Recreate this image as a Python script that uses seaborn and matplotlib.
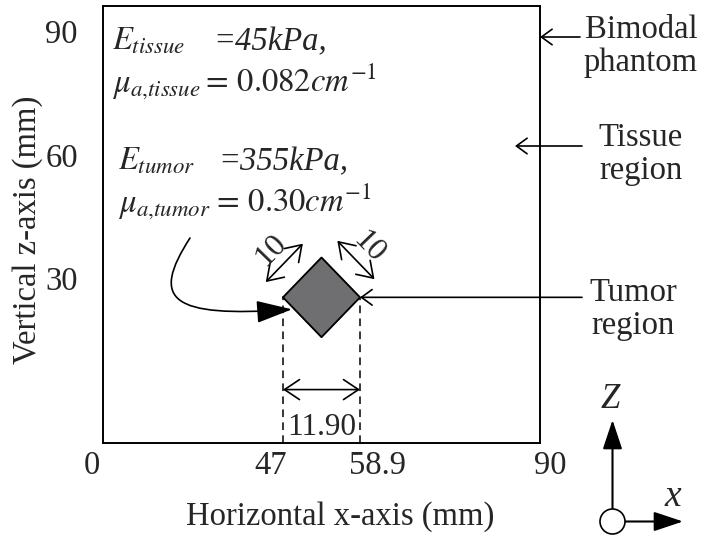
import numpy as np
import pandas as pd
import matplotlib
matplotlib.use("Agg")
import matplotlib.pyplot as plt
import seaborn as sns
from matplotlib.patches import FancyArrowPatch, Circle
from matplotlib.path import Path
from matplotlib.transforms import IdentityTransform

# Phantom extent (mm) and the values printed along the axes
phantom_x = [0, 90]
phantom_z = [0, 90]
x_tick_values = [0, 47, 58.9, 90]
z_tick_values = [30, 60, 90]

# Tumor inclusion: horizontal corner positions, vertical extent and side lengths (mm)
tumor_x = [47.0, 58.9]
tumor_z = [21.8, 38.2]
tumor_side = [10, 10]

# Material properties
E_tissue_kPa = 45
mu_tissue = 0.082
E_tumor_kPa = 355
mu_tumor = 0.30

W, H = 704, 537
FS = 23.5

sns.set_theme(style="white")
plt.rcParams["font.family"] = ["Liberation Serif", "DejaVu Serif"]
plt.rcParams["mathtext.fontset"] = "stix"

fig = plt.figure(figsize=(W / 100, H / 100), dpi=100)
fig.patch.set_facecolor("white")
ax = fig.add_axes([103 / W, 1 - 443 / H, 437 / W, 437 / H])

# Schematic x axis: the tumor span is drawn enlarged relative to the rest
x_break = [phantom_x[0], tumor_x[0], tumor_x[1], phantom_x[1]]
x_drawn = [0.0, 37.07, 52.93, 90.0]
ax.set_xscale("function",
              functions=(lambda v: np.interp(v, x_break, x_drawn),
                         lambda v: np.interp(v, x_drawn, x_break)))

# Tumor: a square turned on its corner
cx = float(np.mean(tumor_x))
cz = float(np.mean(tumor_z))
outline = pd.DataFrame({
    "x": [tumor_x[0], cx, tumor_x[1], cx, tumor_x[0]],
    "z": [cz, tumor_z[1], cz, tumor_z[0], cz],
})
ax.fill(outline["x"], outline["z"], color="#6f6f72", zorder=2)
sns.lineplot(data=outline, x="x", y="z", sort=False, estimator=None,
             color="black", lw=1.3, ax=ax, zorder=3)

ax.set_xlim(phantom_x)
ax.set_ylim(phantom_z)
ax.set_xticks([])
ax.set_yticks([])
for s in ax.spines.values():
    s.set_visible(True)
    s.set_color("black")
    s.set_linewidth(1.4)

# Projection of the tumor corners onto the x axis
ax.vlines(tumor_x, phantom_z[0], cz, colors="black", linestyles=(0, (5, 3.5)),
          lw=1.1, zorder=1)
dim_arrow = dict(arrowstyle="<->,head_length=0.45,head_width=0.3", lw=1.2,
                 color="black", shrinkA=0, shrinkB=0, mutation_scale=24)
ax.annotate("", xy=(tumor_x[0], 11), xytext=(tumor_x[1], 11), arrowprops=dim_arrow)
ax.text(cx, 1.6, f"{tumor_x[1] - tumor_x[0]:.2f}", ha="center", va="baseline",
        fontsize=22.5)

# Side-length dimensions along the two upper edges
td = ax.transData
L = np.array(td.transform((tumor_x[0], cz)))
T = np.array(td.transform((cx, tumor_z[1])))
R = np.array(td.transform((tumor_x[1], cz)))


def side_dimension(a, b, label):
    u = (b - a) / np.linalg.norm(b - a)
    n = np.array([-u[1], u[0]])
    p0 = a + 23 * n - 1 * u
    p1 = b + 23 * n - 3 * u
    ax.annotate("", xy=tuple(p1), xytext=tuple(p0), xycoords="figure pixels",
                textcoords="figure pixels", arrowprops=dim_arrow)
    mid = (p0 + p1) / 2 + 18 * n
    rot = np.degrees(np.arctan2(u[1], u[0]))
    fig.text(mid[0] / W, mid[1] / H, label, rotation=rot, rotation_mode="anchor",
             ha="center", va="center", fontsize=23)


side_dimension(L, T, f"{tumor_side[0]}")
side_dimension(T, R, f"{tumor_side[1]}")

# Values along the axes
x_label_dx = [-11, -12, 17, 10]
for v, dx in zip(x_tick_values, x_label_dx):
    ax.annotate(f"{v:g}", xy=(v, 0), xycoords=("data", "axes fraction"),
                xytext=(dx, -31), textcoords="offset pixels", ha="center",
                va="baseline", fontsize=FS, annotation_clip=False)
z_label_dy = [7, -15, -37]
for v, dy in zip(z_tick_values, z_label_dy):
    ax.annotate(f"{v:g}", xy=(0, v), xycoords=("axes fraction", "data"),
                xytext=(-25, dy), textcoords="offset pixels", ha="right",
                va="baseline", fontsize=FS, annotation_clip=False)

ax.set_xlabel("Horizontal x-axis (mm)", fontsize=FS)
ax.xaxis.set_label_coords((340 - 103) / 437, (443 - 517) / 437)
ax.xaxis.label.set_va("center")
ax.set_ylabel("Vertical z-axis (mm)", fontsize=FS)
ax.yaxis.set_label_coords((28 - 103) / 437, (443 - 230) / 437)
ax.yaxis.label.set_va("center")


def put(xpx, ypx, s, **kw):
    fig.text(xpx / W, 1 - ypx / H, s, va="baseline", ha="left", fontsize=FS, **kw)


# Material property annotations
put(112, 50, r"$E_{tissue}$")
put(213, 50, f"={E_tissue_kPa}kPa,", style="italic")
put(112, 92, r"$\mu_{a{,}tissue}$")
put(201, 92, rf"${{=}}\,{mu_tissue}cm^{{-1}}$")
put(118, 170, r"$E_{tumor}$")
put(218, 170, f"={E_tumor_kPa}kPa,", style="italic")
put(118, 212, r"$\mu_{a{,}tumor}$")
put(212, 212, rf"${{=}}\,{mu_tumor:.2f}cm^{{-1}}$")

# Curved pointer from the tumor properties to the inclusion
tip = (L[0] + 9, L[1] - 12)
curve = [(190, H - 238), (150, H - 300), (170, H - 318), tip]
pointer = FancyArrowPatch(
    path=Path(curve, [Path.MOVETO, Path.CURVE4, Path.CURVE4, Path.CURVE4]),
    arrowstyle="-|>,head_length=0.8,head_width=0.25", mutation_scale=28,
    lw=1.2, color="black", transform=IdentityTransform())
fig.add_artist(pointer)

# Region labels on the right
leader = dict(arrowstyle="->,head_length=0.55,head_width=0.4", lw=1.2,
              color="black", shrinkA=0, shrinkB=0, mutation_scale=14)
fig.text(641 / W, 1 - 46 / H, "Bimodal\nphantom", ha="center", va="center",
         fontsize=FS, linespacing=1.12)
ax.annotate("", xy=(540, H - 37), xytext=(580, H - 37), xycoords="figure pixels",
            textcoords="figure pixels", arrowprops=leader)
fig.text(641 / W, 1 - 154 / H, "Tissue\nregion", ha="center", va="center",
         fontsize=FS, linespacing=1.12)
ax.annotate("", xy=(515, H - 146), xytext=(582, H - 146), xycoords="figure pixels",
            textcoords="figure pixels", arrowprops=leader)
fig.text(633 / W, 1 - 309 / H, "Tumor\nregion", ha="center", va="center",
         fontsize=FS, linespacing=1.12)
ax.annotate("", xy=tuple(R), xytext=(582, R[1]), xycoords="figure pixels",
            textcoords="figure pixels", arrowprops=leader)

# Coordinate system glyph
axis_arrow = dict(arrowstyle="-|>,head_length=1.8,head_width=0.6", lw=1.5,
                  color="black", shrinkA=0, shrinkB=0, mutation_scale=10)
ax.annotate("", xy=(612.5, H - 420), xytext=(612.5, H - 509),
            xycoords="figure pixels", textcoords="figure pixels", arrowprops=axis_arrow)
ax.annotate("", xy=(683, H - 521.5), xytext=(625, H - 521.5),
            xycoords="figure pixels", textcoords="figure pixels", arrowprops=axis_arrow)
fig.add_artist(Circle((612.5, H - 521.5), 12.5, transform=IdentityTransform(),
                      facecolor="white", edgecolor="black", lw=1.2, zorder=5))
fig.text(610 / W, 1 - 400 / H, "Z", style="italic", fontsize=25, ha="center", va="center")
fig.text(673 / W, 1 - 497 / H, "x", style="italic", fontsize=27, ha="center", va="center")

fig.savefig("out.png", dpi=100, facecolor="white")
